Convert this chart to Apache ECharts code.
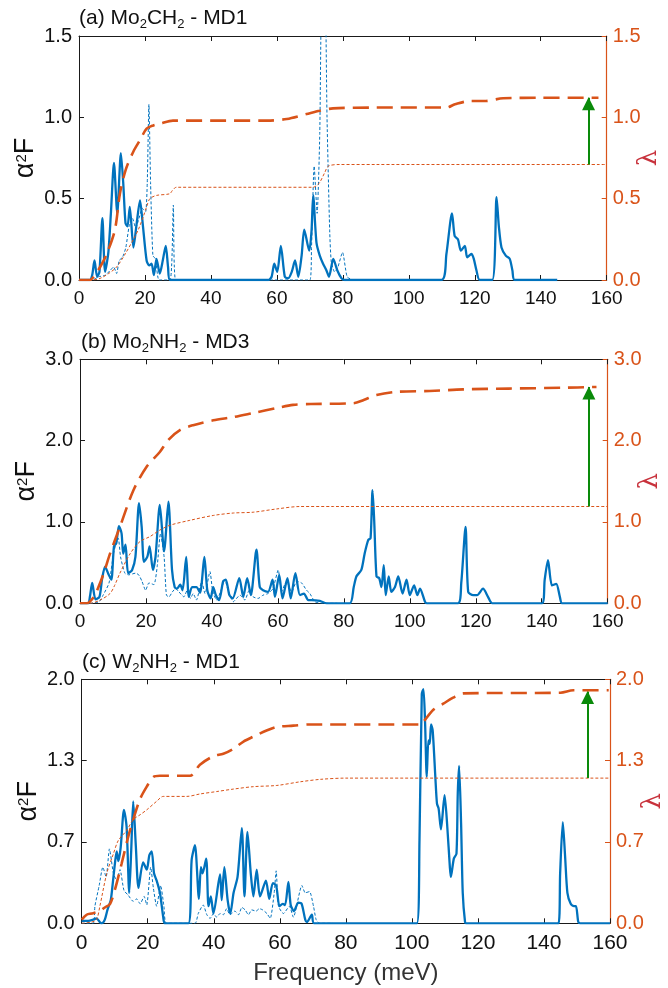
<!DOCTYPE html>
<html>
<head>
<meta charset="utf-8">
<script src="https://cdn.jsdelivr.net/npm/echarts@6/dist/echarts.min.js"></script>
<style>
html,body{margin:0;padding:0;background:#fff;}
#chart{width:668px;height:988px;}
</style>
</head>
<body>
<div id="chart"></div>
<script>
// ---------- DATA ([frequency meV, value]) ----------
const xTicks = [0, 20, 40, 60, 80, 100, 120, 140, 160];

// Panel (a) Mo2CH2 - MD1
const aSolid = [[0,0],[3.3,0],[4.0,0.03],[4.7,0.12],[5.5,0.02],[6.2,0.05],[7.1,0.38],[7.9,0.05],[8.9,0.17],[9.7,0.42],[10.6,0.72],[11.6,0.41],[12.7,0.78],[13.4,0.6],[14.1,0.35],[14.7,0.33],[15.4,0.45],[16.5,0.2],[17.5,0.35],[18.5,0.49],[19.3,0.35],[20.5,0.12],[21.3,0.09],[22.0,0.1],[22.7,0.03],[23.5,0.13],[24.5,0.04],[25.4,0.12],[26.3,0.21],[27.0,0.08],[27.6,0],[57.4,0],[58.4,0.02],[59.2,0.10],[60.1,0.05],[61.2,0.21],[62.4,0.02],[63.4,0.01],[64.5,0.05],[65.5,0.12],[66.5,0.02],[67.5,0.15],[68.3,0.31],[69.8,0.18],[70.5,0.3],[71.0,0.52],[72.0,0.23],[73.0,0.15],[74,0.10],[75,0.06],[75.8,0.02],[77.1,0.13],[78.3,0.06],[79.6,0.01],[80.5,0],[109.9,0],[111.4,0.16],[113.1,0.41],[113.9,0.27],[114.9,0.25],[115.8,0.18],[117,0.21],[117.7,0.14],[119,0.16],[119.7,0.13],[120.5,0.06],[121.5,0],[125.3,0],[126.6,0.51],[127.3,0.33],[128.1,0.2],[129.4,0.15],[130.6,0.13],[131.4,0.06],[132.1,0],[145,0]];
const aDash = [[0,0],[4,0],[6,0.02],[8,0.03],[9.5,0.06],[10.5,0.08],[11.4,0.04],[12.2,0.12],[13.2,0.14],[14.2,0.2],[15.2,0.33],[16.2,0.38],[17.2,0.32],[18.2,0.38],[19.2,0.44],[20.2,0.42],[20.7,0.6],[21.2,1.08],[21.7,0.6],[22.4,0.15],[23.2,0.13],[24.3,0],[27.6,0],[28.6,0.46],[29.3,0],[70,0],[70.5,0.2],[71.3,0.70],[72.2,0.41],[73,0.9],[73.7,1.9],[74.5,1.9],[75.2,1.0],[76,0.31],[76.5,0.11],[77.5,0.05],[78.5,0.08],[79.9,0.17],[81.3,0.02],[83,0]];
const aLam = [[0,0],[3.3,0],[4.5,0.02],[6.4,0.08],[8.4,0.16],[10.9,0.31],[12.4,0.53],[14.2,0.68],[16.5,0.79],[18.5,0.86],[20.5,0.93],[22.5,0.95],[24.5,0.96],[28.5,0.98],[40,0.98],[57,0.98],[63,0.99],[69,1.02],[73,1.04],[77,1.055],[90,1.06],[111.4,1.06],[114,1.08],[118.5,1.10],[123,1.10],[128.6,1.117],[140,1.12],[157.5,1.12]];
const aLam2 = [[0,0],[4,0],[6.4,0.01],[9,0.04],[11.4,0.08],[14,0.16],[16.5,0.25],[18,0.31],[19.5,0.39],[20.5,0.45],[21.5,0.50],[23.5,0.52],[27.5,0.53],[28.3,0.55],[29.5,0.57],[50,0.57],[71,0.57],[72,0.58],[73,0.60],[74.5,0.66],[75.6,0.70],[79,0.71],[90,0.71],[160,0.71]];
const aArrow = [154.5, 0.71, 1.12];

// Panel (b) Mo2NH2 - MD3
const bSolid = [[0,0],[2.5,0],[3.0,0.08],[3.7,0.25],[4.7,0.05],[5.9,0.08],[6.7,0.3],[7.6,0.45],[8.6,0.36],[9.5,0.29],[10.3,0.70],[11.0,0.74],[11.8,0.95],[12.6,0.86],[13.1,0.61],[13.8,0.72],[14.6,0.37],[15.8,0.41],[16.8,0.57],[17.9,1.23],[18.7,0.94],[19.4,0.51],[20.4,0.57],[21.1,0.70],[22.1,0.41],[22.9,0.57],[24.2,1.21],[25.5,0.64],[26.8,1.25],[27.9,0.41],[28.7,0.2],[29.4,0.18],[30.4,0.23],[31.1,0.16],[32.2,0.57],[33.0,0.08],[34.0,0.2],[35.3,0.2],[36.4,0.13],[37.7,0.57],[38.6,0.16],[39.6,0.06],[40.4,0.2],[41.2,0.1],[42.2,0.04],[43.4,0.27],[44.2,0.29],[45.3,0.10],[46.3,0.06],[48.3,0.31],[49.5,0.08],[50.7,0.31],[51.8,0.1],[53.5,0.66],[54.5,0.2],[55.5,0.16],[57,0.14],[58.4,0.29],[59.1,0.08],[60.4,0.35],[61.4,0.06],[62.9,0.31],[63.9,0.06],[65.3,0.37],[66.7,0.1],[67.9,0.12],[69.2,0.04],[70.2,0.04],[72.7,0.03],[74.8,0],[81.8,0],[83.0,0.2],[83.8,0.33],[85.3,0.41],[86.3,0.61],[87.4,0.78],[88.1,0.80],[88.7,1.39],[89.2,1.02],[89.9,0.33],[90.7,0.31],[91.4,0.2],[92.1,0.47],[92.7,0.1],[93.6,0.33],[94.4,0.14],[95.5,0.2],[96.5,0.33],[97.8,0.12],[99,0.29],[100,0.1],[101.3,0.22],[102.3,0.1],[103.1,0.18],[104.6,0.02],[105.2,0],[114.6,0],[115.6,0.25],[116.9,0.94],[117.7,0.14],[119.2,0.1],[120.4,0.1],[122.2,0.18],[123.7,0.08],[125,0],[140.1,0],[140.9,0.29],[141.9,0.53],[143.1,0.22],[144.4,0.24],[145.5,0.08],[146.2,0],[160,0]];
const bDash = [[0,0],[3,0],[5.8,0.02],[7,0.1],[8.8,0.25],[10.3,0.64],[11.6,0.8],[12.3,0.57],[13.6,0.37],[14.8,0.35],[16.8,0.37],[17.8,0.35],[18.8,0.27],[19.9,0.16],[20.9,0.25],[22.4,0.23],[23.4,0.45],[24.4,0.86],[25.5,0.57],[26.2,0.1],[27,0.08],[28,0.14],[29,0.18],[30,0.14],[31.5,0.08],[32.5,0.16],[33.5,0.06],[34.3,0.12],[35.3,0.04],[36.9,0.27],[37.9,0.12],[39.4,0.39],[40.2,0.16],[41.4,0.04],[42.6,0.14],[43.9,0.29],[44.9,0.16],[46.5,0.02],[48.5,0.1],[50,0.04],[51.3,0.16],[52.5,0.08],[54,0.06],[55.5,0.1],[57,0.12],[58.5,0.18],[60.1,0.41],[61.1,0.14],[62.6,0.27],[64.2,0.14],[65.7,0.27],[67.2,0.25],[68.7,0.16],[69.7,0.12],[71.2,0.02],[73,0],[78,0]];
const bLam = [[0,0],[2,0],[3,0.02],[4.5,0.1],[6.1,0.25],[7.6,0.42],[9.1,0.61],[12.1,0.94],[16.2,1.39],[20.2,1.68],[24.2,1.86],[26.8,2.01],[30.3,2.13],[34.3,2.19],[40.4,2.25],[46.5,2.29],[52.5,2.34],[59.6,2.40],[64.6,2.44],[70,2.45],[82.9,2.46],[86,2.50],[89.9,2.56],[96,2.60],[106,2.61],[116.2,2.63],[130,2.64],[146.5,2.65],[156.6,2.66]];
const bLam2 = [[0,0],[3,0],[6.1,0.04],[9.1,0.12],[10.5,0.22],[12.1,0.37],[15.2,0.61],[18.2,0.76],[21.2,0.82],[24.2,0.90],[27.3,0.96],[33.3,1.02],[40.4,1.08],[46.5,1.11],[52.5,1.12],[59.6,1.16],[66.7,1.19],[76.8,1.19],[160,1.19]];
const bArrow = [154.3, 1.19, 2.66];

// Panel (c) W2NH2 - MD1
const cSolid = [[0,0.02],[2,0.02],[3.5,0.03],[4.5,0.04],[5.5,0.01],[6.1,0],[7,0.03],[7.8,0.11],[8.8,0.19],[9.3,0.3],[10.1,0.5],[10.6,0.59],[11.1,0.51],[11.8,0.62],[12.8,0.93],[13.6,0.79],[14.4,0.25],[15.0,0.6],[15.6,1.0],[16.4,0.63],[17.2,0.29],[18.6,0.50],[19.7,0.44],[20.5,0.56],[21.2,0.59],[21.9,0.41],[22.7,0.35],[23.7,0.25],[24.7,0.05],[25.2,0],[32.3,0],[33.3,0.52],[34.3,0.64],[35.5,0.2],[36.1,0.46],[36.6,0.41],[37.7,0.53],[38.4,0.14],[39.1,0.22],[39.9,0.08],[41.9,0.40],[42.4,0.19],[43.2,0.46],[44.2,0.19],[45,0.08],[46,0.25],[47.2,0.38],[48.5,0.78],[49.3,0.22],[50.2,0.75],[51.2,0.41],[52,0.22],[53,0.44],[54,0.22],[55.8,0.35],[56.8,0.2],[57.9,0.33],[58.9,0.31],[59.9,0.14],[60.9,0.16],[61.6,0.15],[62.6,0.34],[63.3,0.15],[64.3,0.10],[65.6,0.17],[66.6,0.16],[67.7,0.03],[68.2,0.01],[69.7,0.07],[70.4,0],[101.5,0],[102.3,0.68],[103,1.88],[103.5,1.92],[104,1.64],[104.5,1.2],[105,1.5],[105.4,1.47],[105.8,1.63],[106.3,1.58],[107.1,1.2],[107.6,0.98],[108.1,0.94],[108.8,0.77],[109.9,1.05],[110.7,0.8],[111.5,0.46],[111.8,0.38],[112.7,0.53],[113.5,0.57],[113.9,1.07],[114.3,1.29],[114.9,0.82],[115.4,0.25],[116.1,0.01],[116.5,0],[144.4,0],[144.9,0.41],[145.7,0.83],[146.4,0.55],[147.1,0.25],[148.1,0.16],[149.1,0.14],[149.7,0.14],[150.4,0.01],[151,0],[160,0]];
const cDash = [[0,0],[3.5,0],[4,0.14],[5.3,0.31],[6.4,0.46],[7.4,0.38],[8.4,0.61],[9.6,0.41],[10.6,0.35],[11.6,0.44],[12.8,0.27],[14.1,0.23],[15.6,0.18],[16.6,0.2],[17.7,0.16],[18.9,0.22],[19.7,0.15],[20.9,0.46],[21.7,0.29],[22.7,0.14],[23.9,0.31],[24.9,0.14],[25.7,0],[34.3,0],[35.3,0.08],[36.8,0.15],[37.9,0.07],[38.9,0.04],[39.9,0.08],[40.9,0.05],[41.9,0.08],[42.9,0.07],[43.9,0.12],[44.9,0.07],[46.4,0.1],[47.5,0.07],[48.5,0.13],[49.5,0.11],[50.5,0.07],[51.5,0.11],[52.8,0.1],[53.8,0.12],[54.8,0.11],[56.1,0.08],[57.1,0.04],[58.3,0.25],[58.9,0.43],[59.6,0.14],[61.1,0.08],[62.9,0.14],[64.1,0.05],[66.7,0.31],[67.7,0.25],[69,0.26],[70.2,0.14],[71,0.03],[72,0],[76,0]];
const cLam = [[0,0.03],[1.5,0.07],[3,0.08],[4.5,0.09],[5.5,0.1],[7,0.13],[8.6,0.16],[10.1,0.28],[12.1,0.49],[14,0.7],[15.6,0.85],[17.7,1.02],[19.7,1.12],[21.7,1.2],[23.7,1.21],[32.8,1.21],[35.8,1.30],[39.9,1.37],[42.9,1.39],[45.9,1.43],[49,1.49],[52,1.53],[56,1.58],[59.1,1.61],[64.1,1.62],[69.1,1.63],[103,1.63],[103.5,1.65],[106.5,1.75],[109.5,1.80],[112.5,1.85],[115.6,1.885],[145,1.89],[148.9,1.91],[159.6,1.91]];
const cLam2 = [[0,0],[3,0.01],[4.5,0.03],[5.5,0.14],[7.6,0.41],[9.6,0.57],[11.1,0.68],[13.6,0.76],[15.6,0.85],[17.7,0.89],[19.7,0.93],[22.7,1.0],[24.7,1.04],[31.8,1.04],[35.8,1.06],[40.9,1.08],[45.9,1.10],[52,1.12],[59.1,1.13],[66.2,1.16],[72.3,1.18],[80,1.19],[160,1.19]];
const cArrow = [153.2, 1.19, 1.90];

const titles = ['(a) Mo{s|2}CH{s|2} - MD1', '(b) Mo{s|2}NH{s|2} - MD3', '(c) W{s|2}NH{s|2} - MD1'];
const yMax = [1.5, 3.0, 2.0];
const yInterval = [0.5, 1.0, 2/3];

// ---------- STYLE ----------
const F = '"Liberation Sans", Arial, sans-serif';
const BLUE = '#0072BD', ORANGE = '#D95319', GREEN = '#0A8A0A', LAMC = '#C8323C', AX = '#1a1a1a';
const grids = [
  {left: 79, right: 61.3, top: 36, height: 244, outerBoundsMode: 'none', containLabel: false},
  {left: 80, right: 60.3, top: 359.3, height: 244, outerBoundsMode: 'none', containLabel: false},
  {left: 81.7, right: 58, top: 679.3, height: 244, outerBoundsMode: 'none', containLabel: false}
];
const titlePos = [{left: 79, top: 5}, {left: 81, top: 329}, {left: 82, top: 649}];
const panels = [
  {solid: aSolid, dash: aDash, lam: aLam, lam2: aLam2, arrow: aArrow},
  {solid: bSolid, dash: bDash, lam: bLam, lam2: bLam2, arrow: bArrow},
  {solid: cSolid, dash: cDash, lam: cLam, lam2: cLam2, arrow: cArrow}
];

const option = {animation: false, backgroundColor: '#fff', title: [], grid: grids, xAxis: [], yAxis: [], series: []};

panels.forEach((p, i) => {
  option.title.push({
    text: titles[i], left: titlePos[i].left, top: titlePos[i].top, padding: 0,
    textStyle: {fontFamily: F, fontSize: 21, fontWeight: 'normal', color: '#111', lineHeight: 26,
      rich: {s: {fontFamily: F, fontSize: 13, color: '#111', verticalAlign: 'bottom', lineHeight: 15}}}
  });
  const big = i === 2;
  option.xAxis.push({
    type: 'value', gridIndex: i, min: xTicks[0], max: xTicks[xTicks.length - 1], interval: 20, position: 'bottom',
    axisLine: {show: true, onZero: false, lineStyle: {color: AX, width: 1}},
    axisTick: {show: true, inside: true, length: 5, lineStyle: {color: AX}},
    axisLabel: {color: '#111', fontFamily: F, fontSize: big ? 21 : 19, margin: big ? 9 : 9},
    splitLine: {show: false},
    name: big ? 'Frequency (meV)' : '', nameLocation: 'middle', nameGap: 38, nameMoveOverlap: false,
    nameTextStyle: {fontFamily: F, fontSize: 24, color: '#333'}
  });
  option.xAxis.push({
    type: 'value', gridIndex: i, min: xTicks[0], max: xTicks[xTicks.length - 1], interval: 20, position: 'top',
    axisLine: {show: true, onZero: false, lineStyle: {color: AX, width: 1}},
    axisTick: {show: true, inside: true, length: 5, lineStyle: {color: AX}},
    axisLabel: {show: false}, splitLine: {show: false}
  });
  option.yAxis.push({
    type: 'value', gridIndex: i, min: 0, max: yMax[i], interval: yInterval[i], position: 'left',
    axisLine: {show: true, onZero: false, lineStyle: {color: AX, width: 1}},
    axisTick: {show: true, inside: true, length: 5, lineStyle: {color: AX}},
    axisLabel: {color: '#111', fontFamily: F, fontSize: 20, margin: 7, formatter: v => v.toFixed(1)},
    splitLine: {show: false},
    name: 'α{s|2}F', nameLocation: 'middle', nameRotate: 90, nameGap: 40, nameMoveOverlap: false,
    nameTextStyle: {fontFamily: F, fontSize: 27, color: '#111',
      rich: {s: {fontFamily: F, fontSize: 15, color: '#111', verticalAlign: 'bottom', padding: [0, 0, 10, 0]}}}
  });
  option.yAxis.push({
    type: 'value', gridIndex: i, min: 0, max: yMax[i], interval: yInterval[i], position: 'right',
    axisLine: {show: true, onZero: false, lineStyle: {color: ORANGE, width: 1.2}},
    axisTick: {show: true, inside: true, length: 5, lineStyle: {color: ORANGE}},
    axisLabel: {color: ORANGE, fontFamily: F, fontSize: 20, margin: 6, formatter: v => v.toFixed(1)},
    splitLine: {show: false},
    name: 'λ', nameLocation: 'middle', nameRotate: 90, nameGap: 30, nameMoveOverlap: false,
    nameTextStyle: {fontFamily: '"DejaVu Serif", serif', fontSize: 26, color: LAMC}
  });
  const xb = i * 2, yl = i * 2, yr = i * 2 + 1;
  option.series.push({
    type: 'line', xAxisIndex: xb, yAxisIndex: yl, data: p.dash, symbol: 'none', smooth: 0.2, clip: true,
    lineStyle: {color: BLUE, width: 1, type: [3, 2]}, z: 2
  });
  option.series.push({
    type: 'line', xAxisIndex: xb, yAxisIndex: yl, data: p.solid, symbol: 'none', smooth: 0.25, clip: true,
    lineStyle: {color: BLUE, width: 2.3}, z: 3
  });
  option.series.push({
    type: 'line', xAxisIndex: xb, yAxisIndex: yr, data: p.lam2, symbol: 'none', smooth: 0.3, clip: true,
    lineStyle: {color: ORANGE, width: 1, type: [3, 2]}, z: 4,
    markLine: {
      silent: true, animation: false, symbol: ['none', 'triangle'], symbolSize: 13,
      symbolOffset: [0, [0, 6]],
      label: {show: false},
      lineStyle: {color: GREEN, width: 2, type: 'solid'},
      emphasis: {disabled: true},
      data: [[{coord: [p.arrow[0], p.arrow[1]]}, {coord: [p.arrow[0], p.arrow[2]]}]]
    }
  });
  option.series.push({
    type: 'line', xAxisIndex: xb, yAxisIndex: yr, data: p.lam, symbol: 'none', smooth: 0.3, clip: true,
    lineStyle: {color: ORANGE, width: 2.6, type: [16, 8]}, z: 5
  });
});

const chart = echarts.init(document.getElementById('chart'), null, {renderer: 'canvas'});
chart.setOption(option);
</script>
</body>
</html>
